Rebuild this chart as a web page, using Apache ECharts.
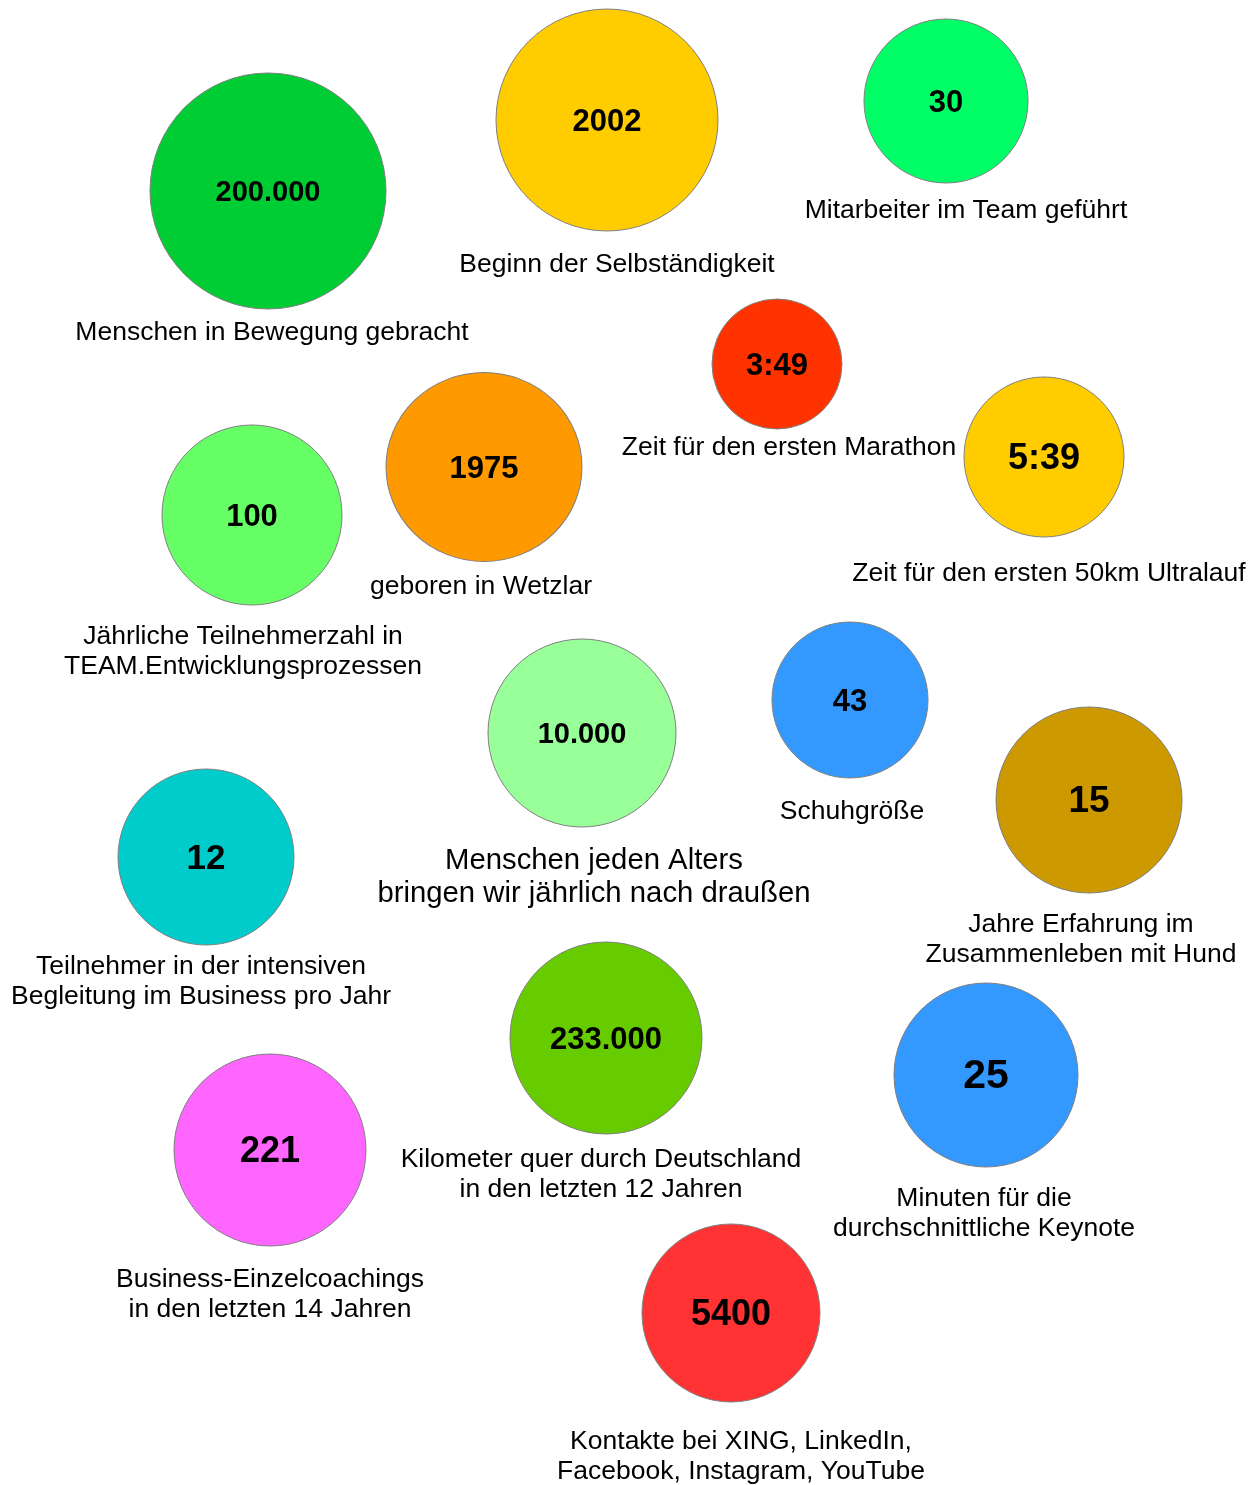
<!DOCTYPE html>
<html>
<head>
<meta charset="utf-8">
<title>Zahlen und Fakten</title>
<script src="https://cdn.jsdelivr.net/npm/echarts@6/dist/echarts.min.js"></script>
<style>
  html, body { margin: 0; padding: 0; background: #fff; }
  #chart { width: 1258px; height: 1485px; }
</style>
</head>
<body>
<div id="chart"></div>
<script>
// values shown inside the bubbles
var values = ['200.000', '2002', '30', '3:49', '5:39', '1975', '100', '10.000',
  '43', '15', '12', '233.000', '25', '221', '5400'];

// captions below / next to the bubbles
var captions = [
  'Menschen in Bewegung gebracht',
  'Beginn der Selbständigkeit',
  'Mitarbeiter im Team geführt',
  'Zeit für den ersten Marathon',
  'Zeit für den ersten 50km Ultralauf',
  'geboren in Wetzlar',
  'Jährliche Teilnehmerzahl in\nTEAM.Entwicklungsprozessen',
  'Menschen jeden Alters\nbringen wir jährlich nach draußen',
  'Schuhgröße',
  'Jahre Erfahrung im\nZusammenleben mit Hund',
  'Teilnehmer in der intensiven\nBegleitung im Business pro Jahr',
  'Kilometer quer durch Deutschland\nin den letzten 12 Jahren',
  'Minuten für die\ndurchschnittliche Keynote',
  'Business-Einzelcoachings\nin den letzten 14 Jahren',
  'Kontakte bei XING, LinkedIn,\nFacebook, Instagram, YouTube'
];

// bubble centres and sizes (x, y in page units, y downward)
var bubbleX = [268, 607, 946, 777, 1044, 484, 252, 582, 850, 1089, 206, 606, 986, 270, 731];
var bubbleY = [191, 120, 101, 364, 457, 467, 515, 733, 700, 800, 857, 1038, 1075, 1150, 1313];
var bubbleW = [236, 222, 164, 130, 160, 196, 180, 188, 156, 186, 176, 192, 184, 192, 178];
var bubbleH = [236, 222, 164, 130, 160, 189, 180, 188, 156, 186, 176, 192, 184, 192, 178];

// caption anchor points
var captionX = [272, 617, 966, 789, 1049, 481, 243, 594, 852, 1081, 201, 601, 984, 270, 741];
var captionY = [333, 265, 211, 448, 574, 587, 652, 877, 812, 940, 982, 1175, 1214, 1295, 1457];

var colors = ['#00cc33', '#ffcc00', '#00ff66', '#ff3300', '#ffcc00', '#ff9900', '#66ff66',
  '#99ff99', '#3399ff', '#cc9900', '#00cccc', '#66cc00', '#3399ff', '#ff66ff', '#ff3333'];
var valueFont = [29, 31, 31, 31, 36, 31, 31, 29, 31, 37, 35, 31, 41, 36, 36];

var font = '"Liberation Sans", Arial, sans-serif';

var bubbles = values.map(function (v, i) {
  return {
    value: [bubbleX[i], bubbleY[i]],
    symbolSize: [bubbleW[i], bubbleH[i]],
    itemStyle: { color: colors[i] },
    label: { fontSize: valueFont[i] }
  };
});

var texts = captions.map(function (c, i) {
  var big = i === 7;
  return {
    value: [captionX[i], captionY[i]],
    label: {
      color: '#000000',
      fontFamily: font,
      fontSize: big ? 29.3 : 26.5,
      lineHeight: big ? 33 : 30
    }
  };
});

var chart = echarts.init(document.getElementById('chart'));
chart.setOption({
  animation: false,
  backgroundColor: '#ffffff',
  grid: { left: 0, right: 0, top: 0, bottom: 0 },
  xAxis: { type: 'value', min: 0, max: 1258, show: false },
  yAxis: { type: 'value', min: 0, max: 1485, inverse: true, show: false },
  series: [
    {
      type: 'scatter',
      symbol: 'circle',
      silent: true,
      data: bubbles,
      itemStyle: { borderColor: '#808080', borderWidth: 1, opacity: 1 },
      label: {
        show: true,
        position: 'inside',
        offset: [0, 2],
        color: '#000',
        fontWeight: 'bold',
        fontFamily: font,
        formatter: function (p) { return values[p.dataIndex]; }
      }
    },
    {
      type: 'scatter',
      symbolSize: 1,
      silent: true,
      itemStyle: { color: 'rgba(0,0,0,0)', opacity: 1 },
      data: texts,
      label: {
        show: true,
        position: 'inside',
        align: 'center',
        verticalAlign: 'middle',
        color: '#000000',
        opacity: 1,
        textBorderWidth: 0,
        fontFamily: font,
        formatter: function (p) { return captions[p.dataIndex]; }
      }
    }
  ]
});
</script>
</body>
</html>
